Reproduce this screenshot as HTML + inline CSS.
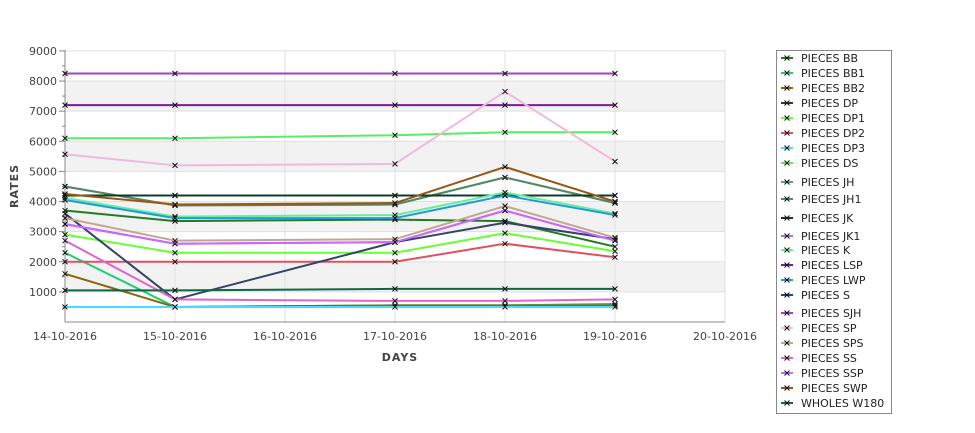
<!DOCTYPE html>
<html><head><meta charset="utf-8"><style>
body{margin:0;background:#fff;width:975px;height:429px;overflow:hidden;font-family:"DejaVu Sans","Liberation Sans",sans-serif}
svg text{font-family:"DejaVu Sans","Liberation Sans",sans-serif}
</style></head><body>
<svg id="chart" width="975" height="429">
<g id="grid"></g><g id="axes"></g><g id="series"></g><g id="legend"></g>
<text x="400" y="361" font-size="11" font-weight="bold" fill="#444" text-anchor="middle" letter-spacing="1">DAYS</text>
<text x="18" y="186" font-size="11" font-weight="bold" fill="#444" text-anchor="middle" letter-spacing="1" transform="rotate(-90 18 186)">RATES</text>
</svg>
<script>
const dates=["14-10-2016","15-10-2016","16-10-2016","17-10-2016","18-10-2016","19-10-2016","20-10-2016"];
const pointDays=[0,1,3,4,5];
const yTicks=[1000,2000,3000,4000,5000,6000,7000,8000,9000];
const names=["PIECES BB","PIECES BB1","PIECES BB2","PIECES DP","PIECES DP1","PIECES DP2","PIECES DP3","PIECES DS","PIECES JH","PIECES JH1","PIECES JK","PIECES JK1","PIECES K","PIECES LSP","PIECES LWP","PIECES S","PIECES SJH","PIECES SP","PIECES SPS","PIECES SS","PIECES SSP","PIECES SWP","WHOLES W180"];
const colors=["#237a23","#22cc77","#886611","#443322","#66ff33","#e05060","#44ddff","#55ee66","#66a070","#558866","#0d3d2a","#b070d0","#66ee99","#7a1a9a","#2299dd","#334466","#a040c0","#eebbdd","#c0a890","#dd66cc","#cc66ff","#995511","#116644"];
const vBB=[3700,3350,3400,3350,2500];
const vBB1=[2300,500,550,550,600];
const vBB2=[1600,500,550,550,550];
const vDP=[4200,4200,4200,4200,4200];
const vDP1=[2900,2300,2300,2950,2350];
const vDP2=[2000,2000,2000,2600,2150];
const vDP3=[500,500,500,500,500];
const vDS=[6100,6100,6200,6300,6300];
const vJH=[4500,3870,3900,4800,3950];
const vJH1=[4500,3870,3900,4800,3950];
const vJK=[4200,4200,4200,4200,4200];
const vJK1=[3250,2600,2650,3700,2700];
const vK=[4120,3500,3550,4300,3600];
const vLSP=[7200,7200,7200,7200,7200];
const vLWP=[4050,3450,3450,4200,3550];
const vS=[3600,750,2650,3300,2750];
const vSJH=[8250,8250,8250,8250,8250];
const vSP=[5570,5200,5250,7650,5330];
const vSPS=[3450,2700,2750,3850,2800];
const vSS=[2700,750,700,700,750];
const vSSP=[3250,2600,2650,3700,2700];
const vSWP=[4250,3900,3950,5150,4000];
const vW180=[1050,1050,1100,1100,1100];
const values=[vBB,vBB1,vBB2,vDP,vDP1,vDP2,vDP3,vDS,vJH,vJH1,vJK,vJK1,vK,vLSP,vLWP,vS,vSJH,vSP,vSPS,vSS,vSSP,vSWP,vW180];
const legendY=[58,73,88,103,118,133,148,163,182,199,218,236,250,265,280,295,313,328,343,358,373,388,403];
const NS="http://www.w3.org/2000/svg";
const X0=65,DX=110,Y0=322,PER=30.12/1000;
const xs=d=>X0+d*DX, ys=v=>Y0-v*PER;
function mk(tag,attrs,parent){const e=document.createElementNS(NS,tag);for(const k in attrs)e.setAttribute(k,attrs[k]);parent.appendChild(e);return e;}
const grid=document.getElementById('grid'),axes=document.getElementById('axes'),ser=document.getElementById('series'),leg=document.getElementById('legend');
for(let i=0;i<9;i++){if(i%2===1){const r=mk('rect',{x:X0,y:ys((i+1)*1000),width:660,height:ys(i*1000)-ys((i+1)*1000),fill:'#f2f2f2'},grid);

}}
yTicks.forEach(t=>{const l=mk('line',{x1:X0,x2:725,y1:ys(t),y2:ys(t),stroke:'#e0e0e0'},grid);


const tk=mk('line',{x1:X0-6,x2:X0,y1:ys(t),y2:ys(t),stroke:'#888'},axes);


const m=mk('line',{x1:X0-3,x2:X0,y1:ys(t-500),y2:ys(t-500),stroke:'#888'},axes);


const tx=mk('text',{x:X0-8,y:ys(t)+4,'font-size':11,fill:'#444','text-anchor':'end'},axes);tx.textContent=t;

});
dates.forEach((d,i)=>{const l=mk('line',{x1:xs(i),x2:xs(i),y1:50,y2:Y0,stroke:'#e0e0e0'},grid);


const tx=mk('text',{x:xs(i),y:340,'font-size':11,fill:'#444','text-anchor':'middle'},axes);tx.textContent=d;

});
const ax1=mk('line',{x1:X0,x2:X0,y1:50,y2:Y0,stroke:'#888'},axes);


const ax2=mk('line',{x1:X0,x2:725,y1:Y0,y2:Y0,stroke:'#888'},axes);


function cross(g,x,y){mk('path',{d:`M${x-2.5} ${y-2.5}L${x+2.5} ${y+2.5}M${x-2.5} ${y+2.5}L${x+2.5} ${y-2.5}`,stroke:'#111','stroke-width':1},g);}
values.forEach((vals,s)=>{const g=mk('g',{},ser);


const pts=vals.map((v,i)=>xs(pointDays[i])+','+ys(v)).join(' ');
mk('polyline',{points:pts,fill:'none',stroke:colors[s],'stroke-width':2},g);
vals.forEach((v,i)=>cross(g,xs(pointDays[i]),ys(v)));});
const box=mk('rect',{x:776.5,y:50.5,width:115,height:363,fill:'#fff',stroke:'#888'},leg);


names.forEach((n,i)=>{const g=mk('g',{},leg);


const y=legendY[i];
mk('line',{x1:781,x2:793,y1:y,y2:y,stroke:colors[i],'stroke-width':2},g);
cross(g,787,y);
const t=mk('text',{x:801,y:y+4,'font-size':11,fill:'#222'},g);t.textContent=n;});
</script>
</body></html>
